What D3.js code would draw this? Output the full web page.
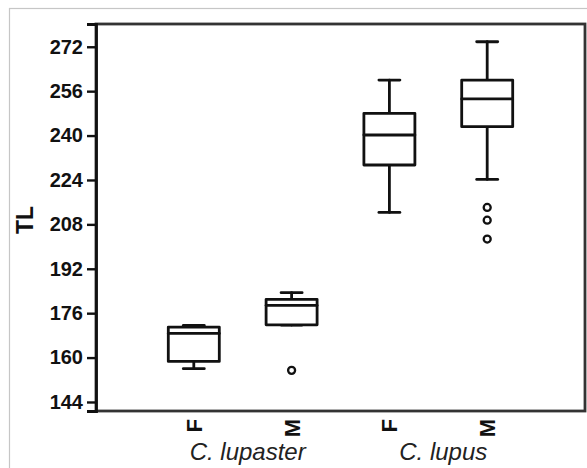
<!DOCTYPE html>
<html>
<head>
<meta charset="utf-8">
<script src="https://cdn.jsdelivr.net/npm/d3@7"></script>
<style>
body { margin: 0; background: #fff; }
svg { display: block; }
</style>
</head>
<body>
<div id="chart"></div>
<script>
var width = 587;
var height = 468;

// values
var groups = ["C. lupaster|F", "C. lupaster|M", "C. lupus|F", "C. lupus|M"];
var sexes = ["F", "M", "F", "M"];
var species = ["C. lupaster", "C. lupus"];
var whiskerLow = [156.0, 171.7, 212.3, 224.2];
var q1 = [158.6, 171.8, 229.4, 243.2];
var median = [168.7, 178.8, 240.2, 253.2];
var q3 = [171.0, 181.0, 248.0, 260.0];
var whiskerHigh = [171.6, 183.4, 260.0, 273.8];
var outliers = [[], [155.4], [], [214.1, 209.5, 202.7]];
var yTicks = [144, 160, 176, 192, 208, 224, 240, 256, 272];

var plotLeft = 96, plotTop = 24, plotRight = 585, plotBottom = 411;

var svg = d3.select("#chart").append("svg")
	.attr("width", width)
	.attr("height", height);

// outer light frame
svg.append("rect")
	.attr("x", 9.5).attr("y", 8.5)
	.attr("width", 700).attr("height", 600)
	.attr("fill", "none")
	.attr("stroke", "#c6c6c6")
	.attr("stroke-width", 1.2);

var x = d3.scalePoint().domain(groups).range([plotLeft, plotRight]).padding(1);
var y = d3.scaleLinear().domain([140.75, 280.2]).range([plotBottom, plotTop]);

// plot frame
svg.append("rect")
	.attr("x", plotLeft).attr("y", plotTop)
	.attr("width", plotRight - plotLeft).attr("height", plotBottom - plotTop)
	.attr("fill", "none")
	.attr("stroke", "#333")
	.attr("stroke-width", 2.8);

var yAxis = svg.append("g")
	.attr("transform", "translate(" + plotLeft + ",0)")
	.call(d3.axisLeft(y).tickValues(yTicks).tickSize(9).tickPadding(4));
yAxis.select(".domain").attr("stroke", "#111").attr("stroke-width", 2.8);
yAxis.selectAll(".tick line").attr("stroke", "#111").attr("stroke-width", 2.4);
yAxis.selectAll(".tick text")
	.attr("fill", "#111")
	.style("font-family", "'Liberation Sans', Arial, sans-serif")
	.style("font-size", "20px")
	.style("font-weight", "bold");

svg.append("text")
	.attr("transform", "translate(33," + 220 + ") rotate(-90)")
	.attr("text-anchor", "middle")
	.style("font-family", "'Liberation Sans', Arial, sans-serif")
	.style("font-size", "23px")
	.style("font-weight", "bold")
	.attr("fill", "#111")
	.text("TL");

var boxW = 51, capW = 21;
var boxes = svg.append("g")
	.attr("stroke", "#111")
	.attr("stroke-width", 2.8)
	.attr("stroke-linejoin", "round")
	.attr("stroke-linecap", "round")
	.attr("fill", "none");

groups.forEach(function(g, i) {
	var cx = x(g);
	var b = boxes.append("g");
	// whiskers
	b.append("line")
		.attr("x1", cx).attr("x2", cx)
		.attr("y1", y(q3[i])).attr("y2", y(whiskerHigh[i]));
	b.append("line")
		.attr("x1", cx).attr("x2", cx)
		.attr("y1", y(q1[i])).attr("y2", y(whiskerLow[i]));
	b.append("line")
		.attr("x1", cx - capW / 2).attr("x2", cx + capW / 2)
		.attr("y1", y(whiskerHigh[i])).attr("y2", y(whiskerHigh[i]));
	b.append("line")
		.attr("x1", cx - capW / 2).attr("x2", cx + capW / 2)
		.attr("y1", y(whiskerLow[i])).attr("y2", y(whiskerLow[i]));
	// box
	b.append("rect")
		.attr("x", cx - boxW / 2).attr("width", boxW)
		.attr("y", y(q3[i])).attr("height", y(q1[i]) - y(q3[i]))
		.attr("fill", "#fff");
	b.append("line")
		.attr("x1", cx - boxW / 2).attr("x2", cx + boxW / 2)
		.attr("y1", y(median[i])).attr("y2", y(median[i]));
	// outliers
	b.selectAll("circle")
		.data(outliers[i])
		.enter()
		.append("circle")
		.attr("cx", cx)
		.attr("cy", function(d) { return y(d); })
		.attr("r", 3.5)
		.attr("stroke-width", 2.3)
		.attr("fill", "#fff");
});

// sex labels, rotated
svg.selectAll(".sex")
	.data(groups)
	.enter()
	.append("text")
	.attr("class", "sex")
	.attr("transform", function(d) { return "translate(" + (x(d) + 8) + ",419) rotate(-90)"; })
	.attr("text-anchor", "end")
	.style("font-family", "'Liberation Sans', Arial, sans-serif")
	.style("font-size", "22px")
	.style("font-weight", "bold")
	.attr("fill", "#111")
	.text(function(d, i) { return sexes[i]; });

// species labels
svg.selectAll(".species")
	.data(species)
	.enter()
	.append("text")
	.attr("class", "species")
	.attr("x", function(s) {
		var xs = groups.filter(function(g) { return g.split("|")[0] === s; }).map(x);
		return d3.mean(xs) + 5;
	})
	.attr("y", 460)
	.attr("text-anchor", "middle")
	.style("font-family", "'Liberation Sans', Arial, sans-serif")
	.style("font-size", "24px")
	.style("font-style", "italic")
	.attr("fill", "#222")
	.text(function(s) { return s; });
</script>
</body>
</html>
